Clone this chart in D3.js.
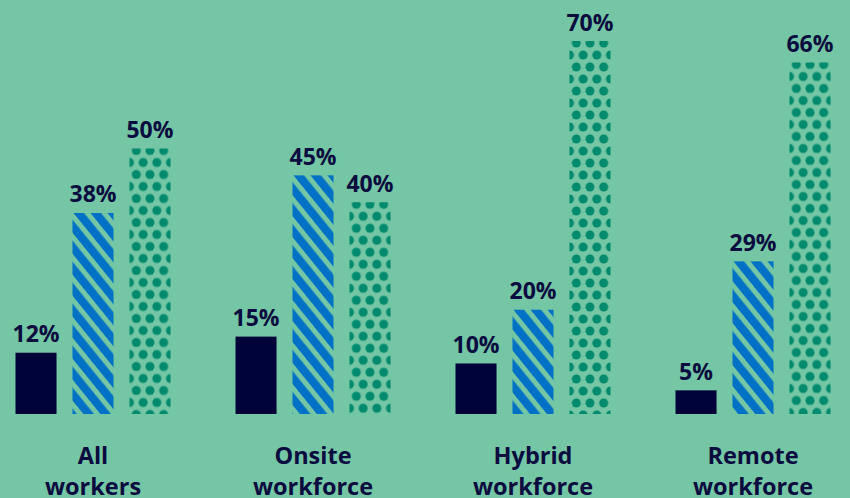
<!DOCTYPE html>
<html>
<head>
<meta charset="utf-8">
<script src="https://cdn.jsdelivr.net/npm/d3@7"></script>
<style>
  html, body { margin: 0; padding: 0; background: #74c6a4; }
  svg { display: block; }
</style>
</head>
<body>
<svg id="chart" width="850" height="498"></svg>
<script>
// Workforce groups and the three answer series for each group
const categories = [["All", "workers"], ["Onsite", "workforce"], ["Hybrid", "workforce"], ["Remote", "workforce"]];
const seriesNames = ["solid", "striped", "dotted"];
const solidValues = [12, 15, 10, 5];
const stripedValues = [38, 45, 20, 29];
const dottedValues = [50, 40, 70, 66];
const valueSuffix = "%";

const W = 850, H = 498;
const bg = "#74c6a4";
const navy = "#000339";
const blue = "#0071c4";
const teal = "#008a6d";
const textColor = "#0a0b3e";

const svg = d3.select("#chart");
svg.append("rect").attr("width", W).attr("height", H).attr("fill", bg);
const defs = svg.append("defs");

const catKeys = categories.map(c => c.join(" "));
const x0 = d3.scaleBand().domain(catKeys).range([-17, 863]).padding(0);
const x1 = d3.scaleBand().domain(seriesNames).range([32.5, 187.5]).paddingInner(0.28).paddingOuter(0);
// value axis starts a little above zero so the baseline sits at the floor of the plot
const y = d3.scaleLinear().domain([0.6, 70]).range([414, 41]);
const baseY = y(y.domain()[0]);

const seriesValues = { solid: solidValues, striped: stripedValues, dotted: dottedValues };

const rows = [];
catKeys.forEach((k, i) => {
  seriesNames.forEach(s => rows.push({ cat: k, ci: i, series: s, value: seriesValues[s][i] }));
});

// one pattern per bar so the fill lines up with each bar's own edges
function fillFor(d, idx) {
  const bx = x0(d.cat) + x1(d.series);
  const by = y(d.value);
  if (d.series === "solid") return navy;
  const id = "pat-" + idx;
  if (d.series === "striped") {
    const p = defs.append("pattern")
      .attr("id", id)
      .attr("patternUnits", "userSpaceOnUse")
      .attr("width", 13.2).attr("height", 40)
      .attr("patternTransform", `translate(${bx + 1},${by}) rotate(-39)`);
    p.append("rect").attr("width", 13.2).attr("height", 40).attr("fill", bg);
    p.append("rect").attr("x", 0).attr("width", 8.2).attr("height", 40).attr("fill", blue);
  } else {
    const pw = x1.bandwidth() / 3, ph = 24, r = 4.5;
    const p = defs.append("pattern")
      .attr("id", id)
      .attr("patternUnits", "userSpaceOnUse")
      .attr("x", bx).attr("y", by + 2)
      .attr("width", pw).attr("height", ph);
    p.append("rect").attr("width", pw).attr("height", ph).attr("fill", bg);
    [[pw / 2, 0], [pw / 2, ph], [0, ph / 2], [pw, ph / 2]].forEach(([cx, cy]) =>
      p.append("circle").attr("cx", cx).attr("cy", cy).attr("r", r).attr("fill", teal));
  }
  return `url(#${id})`;
}

svg.append("g")
  .selectAll("rect")
  .data(rows)
  .join("rect")
  .attr("x", d => x0(d.cat) + x1(d.series))
  .attr("y", d => y(d.value))
  .attr("width", x1.bandwidth())
  .attr("height", d => baseY - y(d.value))
  .attr("fill", (d, i) => fillFor(d, i));

// value labels above the bars
svg.append("g")
  .selectAll("text")
  .data(rows)
  .join("text")
  .attr("x", d => x0(d.cat) + x1(d.series) + x1.bandwidth() / 2)
  .attr("y", d => y(d.value) - 10.5)
  .attr("text-anchor", "middle")
  .attr("font-family", "'Open Sans', sans-serif")
  .attr("font-weight", 700)
  .attr("font-size", 23)
  .attr("fill", textColor)
  .text(d => d.value + valueSuffix);

// category labels under each group
const catG = svg.append("g")
  .selectAll("text")
  .data(categories)
  .join("text")
  .attr("x", (d, i) => x0(catKeys[i]) + x0.bandwidth() / 2)
  .attr("y", 464)
  .attr("text-anchor", "middle")
  .attr("font-family", "'Open Sans', sans-serif")
  .attr("font-weight", 700)
  .attr("font-size", 23.5)
  .attr("fill", textColor);
catG.selectAll("tspan")
  .data(d => d)
  .join("tspan")
  .attr("x", function () { return this.parentNode.getAttribute("x"); })
  .attr("dy", (d, i) => i === 0 ? 0 : 31)
  .text(d => d);
</script>
</body>
</html>
